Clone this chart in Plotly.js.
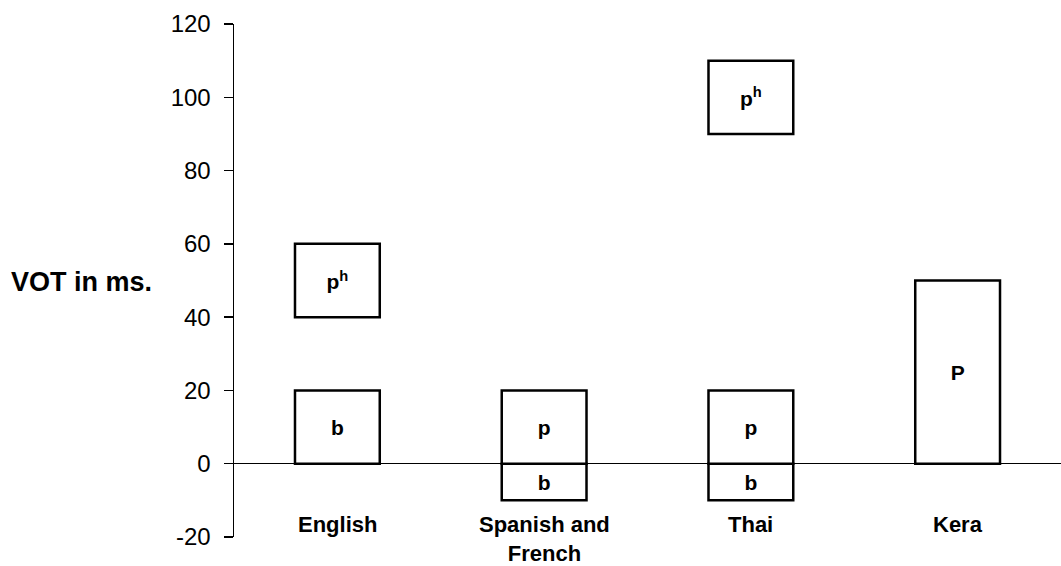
<!DOCTYPE html>
<html>
<head>
<meta charset="utf-8">
<script src="https://cdn.plot.ly/plotly-3.0.1.min.js"></script>
<style>
  html, body { margin: 0; padding: 0; background: #ffffff; }
  #chart { width: 1061px; height: 566px; }
</style>
</head>
<body>
<div id="chart"></div>
<script>
// VOT ranges per language (ms)
const languages = ['English', 'Spanish and<br>French', 'Thai', 'Kera'];

// one box per segment: language, lower edge, upper edge, label
const segLanguage = ['English', 'English', 'Spanish and<br>French', 'Spanish and<br>French', 'Thai', 'Thai', 'Thai', 'Kera'];
const segLow = [0, 40, -10, 0, -10, 0, 90, 0];
const segHigh = [20, 60, 0, 20, 0, 20, 110, 50];
const segLabel = ['b', 'p<sup>h</sup>', 'b', 'p', 'b', 'p', 'p<sup>h</sup>', 'P'];

const yTicks = [-20, 0, 20, 40, 60, 80, 100, 120];
const yTickText = ['-20', '0', '20', '40', '60', '80', '100', '120'];

const fontFamily = 'Arial, "Liberation Sans", sans-serif';

const boxes = {
    type: 'bar',
    x: segLanguage,
    base: segLow,
    y: segHigh.map((h, i) => h - segLow[i]),
    width: 0.41,
    text: segLabel,
    textposition: 'inside',
    insidetextanchor: 'middle',
    textangle: 0,
    insidetextfont: { family: fontFamily, size: 21, color: '#000000', weight: 'bold' },
    marker: { color: '#ffffff', line: { color: '#000000', width: 2.5 } },
    hoverinfo: 'skip',
    showlegend: false
};

// language names sit just under the lowest box position
const langLabels = languages.map(name => ({
    x: name,
    y: -10,
    xref: 'x',
    yref: 'y',
    text: '<b>' + name + '</b>',
    showarrow: false,
    yanchor: 'top',
    yshift: -10,
    font: { family: fontFamily, size: 22, color: '#000000' }
}));

const layout = {
    width: 1061,
    height: 566,
    margin: { t: 24, r: 0, b: 29, l: 234 },
    paper_bgcolor: '#ffffff',
    plot_bgcolor: '#ffffff',
    font: { family: fontFamily, color: '#000000' },
    barmode: 'overlay',
    showlegend: false,
    xaxis: {
        type: 'category',
        categoryorder: 'array',
        categoryarray: languages,
        range: [-0.5, 3.5],
        showticklabels: false,
        ticks: '',
        showline: false,
        showgrid: false,
        zeroline: false
    },
    yaxis: {
        range: [-20, 120],
        tickvals: yTicks,
        ticktext: yTickText,
        ticks: 'outside',
        ticklen: 9,
        tickwidth: 1.5,
        tickcolor: '#000000',
        ticklabelstandoff: 8,
        tickfont: { family: fontFamily, size: 24, color: '#000000' },
        showline: true,
        linecolor: '#000000',
        linewidth: 1.5,
        showgrid: false,
        zeroline: true,
        zerolinecolor: '#000000',
        zerolinewidth: 1.5
    },
    annotations: [
        ...langLabels,
        {
            x: 0,
            y: 49.6,
            xref: 'paper',
            yref: 'y',
            xanchor: 'left',
            xshift: -225,
            text: '<b>VOT in ms.</b>',
            showarrow: false,
            font: { family: fontFamily, size: 27, color: '#000000' }
        }
    ]
};

Plotly.newPlot('chart', [boxes], layout, { displayModeBar: false, staticPlot: true });
</script>
</body>
</html>
